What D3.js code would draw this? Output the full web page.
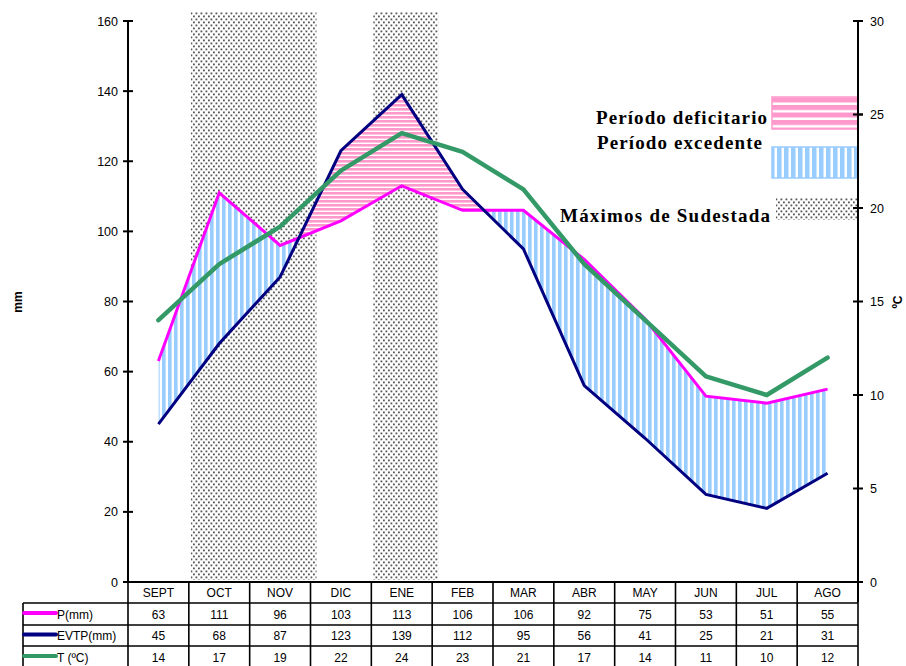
<!DOCTYPE html>
<html><head><meta charset="utf-8">
<script src="https://cdn.jsdelivr.net/npm/d3@7"></script>
<style>body{margin:0;background:#fff}svg{display:block}</style>
</head><body><svg id="c" width="906" height="666"></svg>
<script>
const months = ["SEPT","OCT","NOV","DIC","ENE","FEB","MAR","ABR","MAY","JUN","JUL","AGO"];
const precip = [63,111,96,103,113,106,106,92,75,53,51,55];
const evtp = [45,68,87,123,139,112,95,56,41,25,21,31];
const temp = [14,17,19,22,24,23,21,17,14,11,10,12];
const mmTicks = [0,20,40,60,80,100,120,140,160];
const cTicks = [0,5,10,15,20,25,30];
const sudestada = [["OCT","NOV"],["ENE","ENE"]];
const rowLabels = ["P(mm)","EVTP(mm)","T (ºC)"];
const rowColors = ["#ff00ff","#000080","#339966"];

const W=906,H=666, L=128, R=858, T=21, B=582;
const svg=d3.select("#c");
const x=d3.scaleBand().domain(months).range([L,R]);
const bw=x.bandwidth();
const cx=m=>x(m)+bw/2;
const y=d3.scaleLinear().domain([0,160]).range([B,T]);
const yc=d3.scaleLinear().domain([0,30]).range([B,T]);

const defs=svg.append("defs");
function dots(id){
  const p=defs.append("pattern").attr("id",id).attr("patternUnits","userSpaceOnUse").attr("width",5).attr("height",6);
  p.append("rect").attr("width",5).attr("height",6).attr("fill","#fff");
  p.append("rect").attr("x",0.5).attr("y",0.5).attr("width",1.8).attr("height",1.8).attr("fill","#555");
  p.append("rect").attr("x",3).attr("y",3.5).attr("width",1.8).attr("height",1.8).attr("fill","#555");
}
dots("dots");
function hstripe(id,per,th){
  const p=defs.append("pattern").attr("id",id).attr("patternUnits","userSpaceOnUse").attr("width",10).attr("height",per);
  p.append("rect").attr("width",10).attr("height",per).attr("fill","#fff");
  p.append("rect").attr("width",10).attr("height",th).attr("fill","#ff99cc");
}
function vstripe(id,per,th){
  const p=defs.append("pattern").attr("id",id).attr("patternUnits","userSpaceOnUse").attr("width",per).attr("height",10);
  p.append("rect").attr("width",per).attr("height",10).attr("fill","#fff");
  p.append("rect").attr("width",th).attr("height",10).attr("fill","#99ccff");
}
hstripe("pink",4,2.6); vstripe("blue",6,3.6);
hstripe("pinkL",7.5,5); vstripe("blueL",7,4.5);

// Sudestada shading
sudestada.forEach(([a,b])=>{
  svg.append("rect").attr("x",x(a)+2).attr("y",12).attr("width",x(b)+bw+6-(x(a)+2)).attr("height",B-2-12).attr("fill","url(#dots)");
});

const idx=d3.range(months.length);
const areaBelow=(arr)=>d3.area().x(i=>cx(months[i])).y0(B).y1(i=>y(arr[i]))(idx);
const areaAbove=(arr)=>d3.area().x(i=>cx(months[i])).y0(0).y1(i=>y(arr[i]))(idx);
defs.append("clipPath").attr("id","aboveE").append("path").attr("d",areaAbove(evtp));
defs.append("clipPath").attr("id","aboveP").append("path").attr("d",areaAbove(precip));
svg.append("path").attr("d",areaBelow(precip)).attr("fill","url(#blue)").attr("clip-path","url(#aboveE)");
svg.append("path").attr("d",areaBelow(evtp)).attr("fill","url(#pink)").attr("clip-path","url(#aboveP)");

// lines
const lineMM=arr=>d3.line().x(i=>cx(months[i])).y(i=>y(arr[i]))(idx);
svg.append("path").attr("d",lineMM(precip)).attr("fill","none").attr("stroke","#ff00ff").attr("stroke-width",3);
svg.append("path").attr("d",lineMM(evtp)).attr("fill","none").attr("stroke","#000080").attr("stroke-width",3);
svg.append("path").attr("d",d3.line().x(i=>cx(months[i])).y(i=>yc(temp[i]))(idx)).attr("fill","none").attr("stroke","#339966").attr("stroke-width",4.5).attr("stroke-linecap","round").attr("stroke-linejoin","round");

// axes
const ff="'Liberation Sans',Arial,sans-serif";
svg.append("line").attr("x1",L).attr("x2",L).attr("y1",T).attr("y2",B).attr("stroke","#000").attr("stroke-width",2);
svg.append("line").attr("x1",R).attr("x2",R).attr("y1",T).attr("y2",B+20).attr("stroke","#000").attr("stroke-width",2);
mmTicks.forEach(v=>{
  svg.append("line").attr("x1",L-5).attr("x2",L+5).attr("y1",y(v)).attr("y2",y(v)).attr("stroke","#000").attr("stroke-width",2);
  svg.append("text").attr("x",L-10).attr("y",y(v)+4.5).attr("text-anchor","end").attr("font-family",ff).attr("font-size",12.5).text(v);
});
cTicks.forEach(v=>{
  svg.append("line").attr("x1",R-5).attr("x2",R+5).attr("y1",yc(v)).attr("y2",yc(v)).attr("stroke","#000").attr("stroke-width",2);
  svg.append("text").attr("x",R+12).attr("y",yc(v)+4.5).attr("text-anchor","start").attr("font-family",ff).attr("font-size",12.5).text(v);
});
svg.append("text").attr("transform","translate(22,302) rotate(-90)").attr("text-anchor","middle").attr("font-family",ff).attr("font-weight","bold").attr("font-size",12).text("mm");
svg.append("text").attr("transform","translate(902,302) rotate(-90)").attr("text-anchor","middle").attr("font-family",ff).attr("font-weight","bold").attr("font-size",12).text("ºC");

// legend
const sf="'Liberation Serif','Times New Roman',serif";
const leg=[
  {t:"Período deficitario",x:596,yb:124,len:171,fill:"url(#pinkL)",bx:772,by:97,bw:86,bh:32,stroke:"#ff99cc"},
  {t:"Período excedente",x:597,yb:149,len:165,fill:"url(#blueL)",bx:772,by:147,bw:86,bh:31,stroke:"#99ccff"},
  {t:"Máximos de Sudestada",x:560,yb:222,len:210,fill:"url(#dots)",bx:776,by:198,bw:82,bh:22,stroke:"none"}
];
leg.forEach(d=>{
  svg.append("rect").attr("x",d.bx).attr("y",d.by).attr("width",d.bw).attr("height",d.bh).attr("fill",d.fill).attr("stroke",d.stroke).attr("stroke-width",1.5);
  svg.append("text").attr("x",d.x).attr("y",d.yb).attr("font-family",sf).attr("font-weight","bold").attr("font-size",19).attr("textLength",d.len).attr("lengthAdjust","spacing").text(d.t);
});
// redraw right axis over legend boxes
svg.append("line").attr("x1",R).attr("x2",R).attr("y1",T).attr("y2",B).attr("stroke","#000").attr("stroke-width",2);
[25,20].forEach(v=>svg.append("line").attr("x1",R-5).attr("x2",R+5).attr("y1",yc(v)).attr("y2",yc(v)).attr("stroke","#000").attr("stroke-width",2));

// table
const rowsY=[B,603,625,646,668];
const tl=23;
const lw=1.6;
svg.append("line").attr("x1",L).attr("x2",R).attr("y1",B).attr("y2",B).attr("stroke","#000").attr("stroke-width",2);
[603,625,646].forEach(v=>svg.append("line").attr("x1",tl).attr("x2",R).attr("y1",v).attr("y2",v).attr("stroke","#000").attr("stroke-width",lw));
months.forEach(m=>svg.append("line").attr("x1",x(m)).attr("x2",x(m)).attr("y1",B).attr("y2",H).attr("stroke","#000").attr("stroke-width",lw));
svg.append("line").attr("x1",R).attr("x2",R).attr("y1",B).attr("y2",H).attr("stroke","#000").attr("stroke-width",lw);
svg.append("line").attr("x1",tl).attr("x2",tl).attr("y1",603).attr("y2",H).attr("stroke","#000").attr("stroke-width",lw);
months.forEach(m=>svg.append("text").attr("x",cx(m)).attr("y",597).attr("text-anchor","middle").attr("font-family",ff).attr("font-size",12).text(m));
[precip,evtp,temp].forEach((arr,r)=>{
  const yy=(rowsY[r+1]+rowsY[r+2])/2;
  arr.forEach((v,i)=>svg.append("text").attr("x",cx(months[i])).attr("y",yy+4.5).attr("text-anchor","middle").attr("font-family",ff).attr("font-size",12).text(v));
  svg.append("line").attr("x1",tl+1).attr("x2",56).attr("y1",yy-1).attr("y2",yy-1).attr("stroke",rowColors[r]).attr("stroke-width",4).attr("stroke-linecap","round");
  svg.append("text").attr("x",57).attr("y",yy+4.5).attr("font-family",ff).attr("font-size",12).text(rowLabels[r]);
});
</script></body></html>
